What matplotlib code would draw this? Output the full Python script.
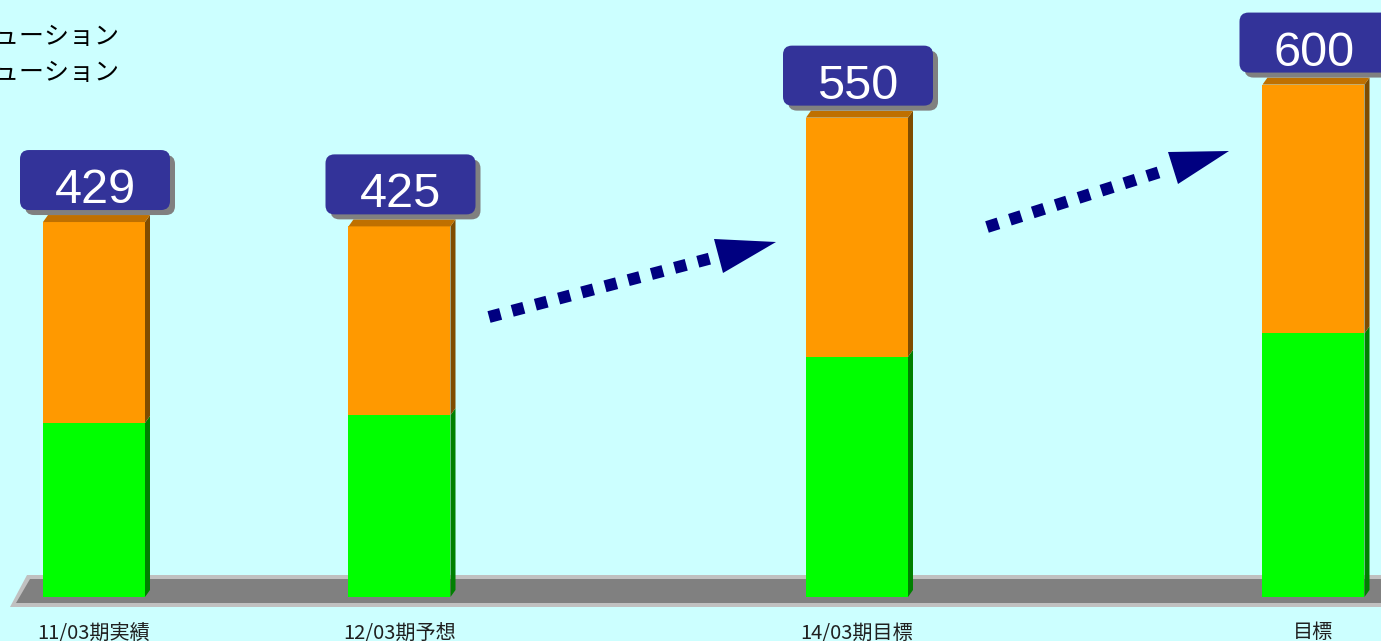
import matplotlib.pyplot as plt
import matplotlib.patches as mpatches
import matplotlib.transforms as mtransforms
import numpy as np

plt.rcParams['font.family'] = ['Noto Sans CJK JP', 'DejaVu Sans']

# data
categories = ['11/03期実績', '12/03期予想', '14/03期目標', '目標']
totals = [429, 425, 550, 600]
green_part = [200, 209, 276, 303]
orange_part = [231, 217, 275, 286]
legend_labels = ['システムソリューション', 'ネットワークソリューション']

# layout, in image pixels
W, H = 1381, 641
bar_x = [94, 399.5, 857, 1313.5]
bar_w = 102
px_per_unit = 0.87
base_px = 597
depth_x, depth_y = 5, 7

fig = plt.figure(figsize=(W / 100, H / 100), dpi=100)
fig.patch.set_facecolor('#CCFFFF')
ax = fig.add_axes([0, 0, 1, 1])
ax.set_xlim(0, W)
ax.set_ylim(-(H - base_px) / px_per_unit, base_px / px_per_unit)
ax.axis('off')

# pixel coords from top-left of the image
pix = mtransforms.Affine2D().scale(1, -1).translate(0, H)
ident = mtransforms.IdentityTransform()

# floor
ax.add_patch(mpatches.Polygon([(10, 607), (27, 575), (1395, 575), (1395, 607)],
                              closed=True, transform=pix, color='#C0C0C0', lw=0, zorder=1))
ax.add_patch(mpatches.Polygon([(16, 603), (30, 579), (1395, 579), (1395, 603)],
                              closed=True, transform=pix, color='#808080', lw=0, zorder=1))

# bars
ax.bar(bar_x, green_part, width=bar_w, color='#00FF00', lw=0, zorder=3)
ax.bar(bar_x, orange_part, bottom=green_part, width=bar_w, color='#FF9900', lw=0, zorder=3)

off = np.array([depth_x, depth_y])
for x, g, o, tot in zip(bar_x, green_part, orange_part, totals):
    # side faces
    for y0, y1, c in [(0, g, '#008000'), (g, g + o, '#7F4C00')]:
        d0 = ax.transData.transform((x + bar_w / 2, y0))
        d1 = ax.transData.transform((x + bar_w / 2, y1))
        ax.add_patch(mpatches.Polygon([d0, d0 + off, d1 + off, d1], closed=True,
                                      transform=ident, color=c, lw=0, zorder=3))
    # top face
    tl = ax.transData.transform((x - bar_w / 2, g + o))
    tr = ax.transData.transform((x + bar_w / 2, g + o))
    ax.add_patch(mpatches.Polygon([tl, tl + off, tr + off, tr], closed=True,
                                  transform=ident, color='#BF7000', lw=0, zorder=3))

    # value label box
    cx = tr[0] - bar_w / 2 + 1
    bottom = tr[1] + 12
    r = 9
    for dx, dy, c, z in [(5, -5, '#808080', 4), (0, 0, '#333399', 5)]:
        ax.add_patch(mpatches.FancyBboxPatch((cx - 75 + r + dx, bottom + r + dy), 150 - 2 * r, 60 - 2 * r,
                                             boxstyle=f'round,pad={r}', transform=ident,
                                             color=c, lw=0, zorder=z))
    ax.text(cx, bottom + 7, str(tot), transform=ident, ha='center', va='baseline',
            fontsize=35, family='Liberation Sans', color='white', zorder=6)

# dotted trend arrows
arrows = [((489, 317), (712, 258), [(714, 239), (776, 242), (723, 273)]),
          ((987, 227), (1163, 171), [(1168, 152), (1229, 151), (1178, 184)])]
for p0, p1, head in arrows:
    ax.plot([p0[0], p1[0]], [p0[1], p1[1]], transform=pix, color='#000080',
            lw=12 * 72 / 100, linestyle=(0, (1, 1)), dash_capstyle='butt', zorder=2)
    ax.add_patch(mpatches.Polygon(head, closed=True, transform=pix, color='#000080', lw=0, zorder=2))

# legend text (cut off at the left edge, as in the original)
for i, lab in enumerate(legend_labels):
    ax.text(119, 37 + 36 * i, lab, transform=pix, ha='right', va='center',
            fontsize=18, color='black')

# category labels
lab_tr = mtransforms.blended_transform_factory(ax.transData, pix)
for x, cat in zip(bar_x, categories):
    ax.text(x, 633, cat, transform=lab_tr, ha='center', va='center',
            fontsize=14.5, color='#202020')

fig.savefig('out.png', dpi=100, facecolor=fig.get_facecolor())
